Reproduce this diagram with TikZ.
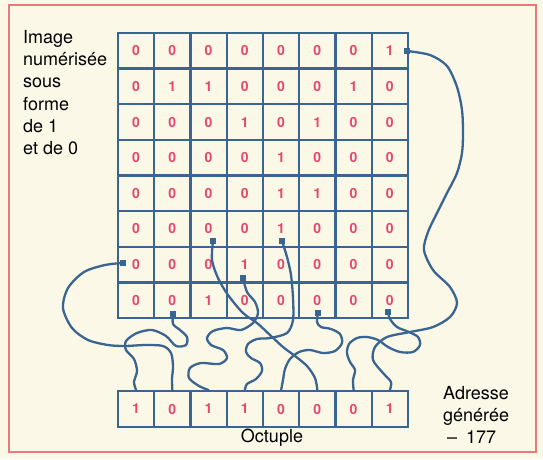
\documentclass[tikz,border=0pt]{standalone}
\usepackage{fontspec}
\setmainfont{TeX Gyre Heros}
\usetikzlibrary{positioning}
\definecolor{wireblue}{RGB}{58,100,145}
\definecolor{bitpink}{RGB}{228,72,112}
\definecolor{paper}{RGB}{252,248,232}
\definecolor{framered}{RGB}{234,122,122}

\begin{document}
\begin{tikzpicture}[x=1pt, y=-1pt,
    cell/.style={draw=wireblue, line width=2.3pt, fill=paper, minimum width=36.25pt,
      minimum height=35.6pt, inner sep=0pt, text=bitpink, font=\fontsize{14}{14}\bfseries},
    wire/.style={wireblue, line width=2.3pt, line cap=round, line join=round},
    tip/.style={fill=wireblue, minimum size=6pt, inner sep=0pt},
    txt/.style={font=\fontsize{18}{22.3}\selectfont, align=left, inner sep=0pt}]

    % Paper and frame
    \fill[paper] (0,0) rectangle (543,459);
    \draw[framered, line width=2pt] (9,5) rectangle (536,452);

    % Digitised image
    \foreach \row [count=\r] in {{0,0,0,0,0,0,0,1},{0,1,1,0,0,0,1,0},{0,0,0,1,0,1,0,0},
        {0,0,0,0,1,0,0,0},{0,0,0,0,1,1,0,0},{0,0,0,0,1,0,0,0},{0,0,0,1,0,0,0,0},{0,0,1,0,0,0,0,0}}
      \foreach \b [count=\c] in \row
        \node[cell] (c\r\c) at ({118+36.25*(\c-0.5)}, {33+35.625*(\r-0.5)}) {\b};

    % Octuple
    \foreach \b [count=\k] in {1,0,1,1,0,0,0,1}
      \node[cell] (o\k) at ({118+36.25*(\k-0.5)}, 409) {\b};

    % Wire ends in the grid
    \node[tip] (p1) at (407,51) {};
    \node[tip] (p2) at (213,241) {};
    \node[tip] (p3) at (282,241) {};
    \node[tip] (p4) at (123,263) {};
    \node[tip] (p5) at (243,278) {};
    \node[tip] (p6) at (173,314) {};
    \node[tip] (p7) at (318,313) {};
    \node[tip] (p8) at (388,312) {};

    % Wires
    \draw[wire] plot[smooth] coordinates {(p1.center) (430,55) (447,66) (457,87) (462,110)
      (463,133) (462,153) (457,173) (447,193) (437,213) (428,232) (424,250) (433,270)
      (450,287) (457,303) (450,317) (433,327) (410,332) (387,337) (375,347) (373,360)
      (383,373) (391,382) (o8.north)};
    \draw[wire] plot[smooth] coordinates {(p2.center) (212,260) (218,278) (228,295) (243,313)
      (257,323) (270,335) (283,347) (295,356) (307,366) (315,378) (o6.north)};
    \draw[wire] plot[smooth] coordinates {(p3.center) (287,257) (291,275) (293,298) (293,320)
      (287,333) (270,338) (257,339) (248,344) (246,352) (251,358) (260,363) (262,371)
      (256,379) (247,384) (o4.north)};
    \draw[wire] plot[smooth] coordinates {(p4.center) (105,265) (84,272) (68,288) (63,308)
      (72,328) (88,340) (108,345) (125,346) (145,345) (163,346) (171,353) (173,366)
      (172,379) (o2.north)};
    \draw[wire] plot[smooth] coordinates {(p5.center) (247,292) (255,302) (258,313) (253,323)
      (241,330) (227,328) (213,331) (207,338) (211,345) (223,350) (227,358) (219,364)
      (201,363) (190,368) (189,378) (199,386) (o3.north)};
    \draw[wire] plot[smooth] coordinates {(p6.center) (173,324) (180,330) (187,337) (186,345)
      (176,346) (166,336) (152,330) (137,333) (126,341) (126,350) (134,359) (137,371)
      (134,382) (o1.north)};
    \draw[wire] plot[smooth] coordinates {(p7.center) (317,322) (321,327) (331,329) (340,334)
      (342,343) (335,351) (323,353) (310,350) (299,352) (290,359) (285,369) (283,380)
      (o5.north)};
    \draw[wire] plot[smooth] coordinates {(p8.center) (390,319) (397,327) (409,332) (418,337)
      (420,345) (413,352) (400,352) (388,347) (378,340) (367,337) (357,338) (349,344)
      (347,353) (350,362) (355,370) (353,380) (o7.north)};

    % Labels
    \node[txt, anchor=north west] (image) at (23,30) {Image\\numérisée\\sous\\forme\\de 1\\et de 0};
    \node[txt] (octuple) at (272,438) {Octuple};
    \node[txt, anchor=north west] (adresse) at (443,386) {Adresse\\générée\\\hspace*{4pt}–\enspace 177};
\end{tikzpicture}
\end{document}
